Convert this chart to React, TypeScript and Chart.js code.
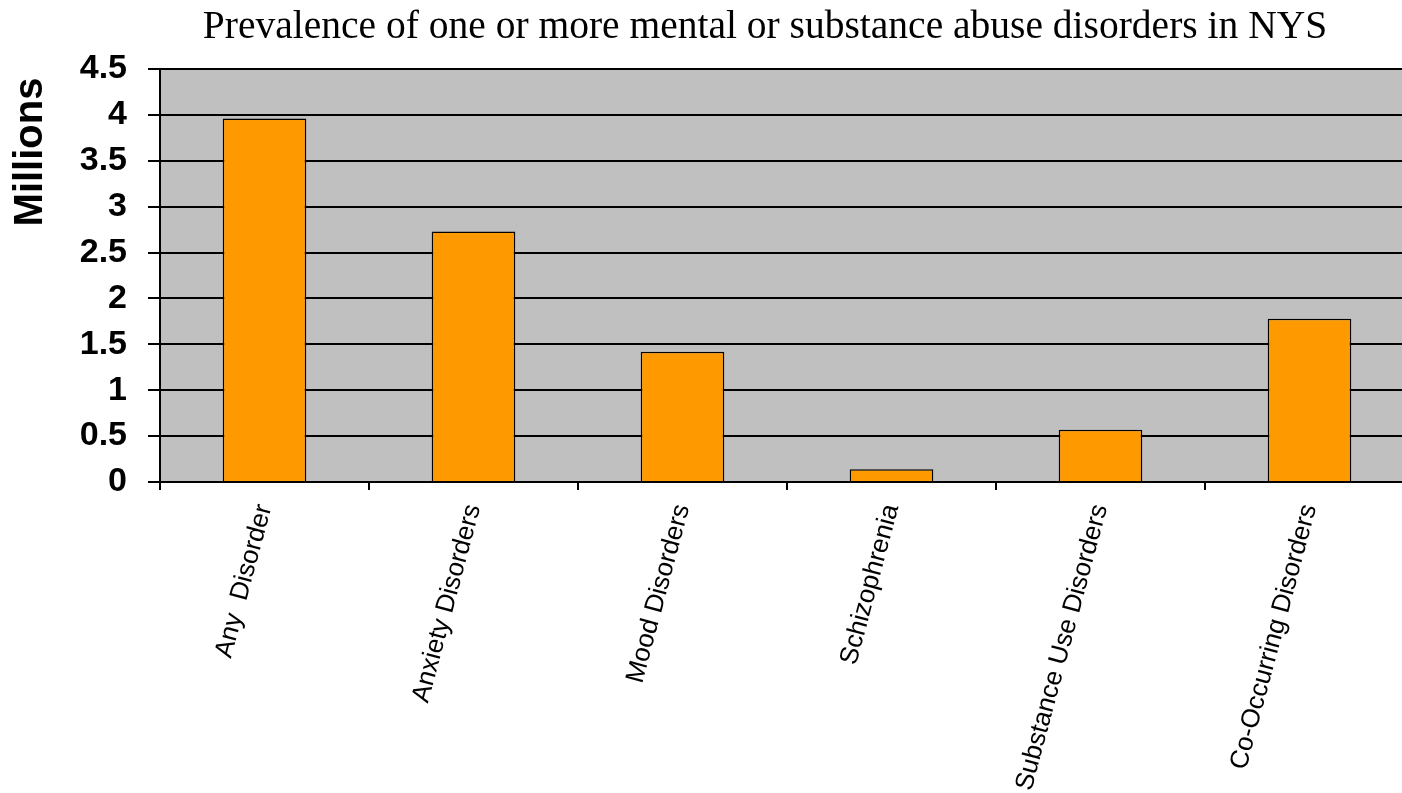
import React, { useEffect, useRef } from "react";
import { Chart, registerables } from "chart.js";

Chart.register(...registerables);

const chartTitle = "Prevalence of one or more mental or substance abuse disorders in NYS";
const yAxisTitle = "Millions";
const categories = [
  "Any  Disorder",
  "Anxiety Disorders",
  "Mood Disorders",
  "Schizophrenia",
  "Substance Use Disorders",
  "Co-Occurring Disorders",
];
const values = [3.96, 2.73, 1.42, 0.14, 0.57, 1.78];
const yMin = 0;
const yMax = 4.5;
const yStep = 0.5;

const plotBackground = {
  id: "plotBackground",
  beforeDraw(chart: any) {
    const { ctx, chartArea } = chart;
    if (!chartArea) return;
    ctx.save();
    ctx.fillStyle = "#C0C0C0";
    ctx.fillRect(chartArea.left, chartArea.top, chartArea.right - chartArea.left, chartArea.bottom - chartArea.top);
    ctx.restore();
  },
};

const textPlugin = {
  id: "textPlugin",
  afterDraw(chart: any) {
    const { ctx, chartArea } = chart;
    ctx.save();
    // chart title
    ctx.fillStyle = "#000";
    ctx.textAlign = "center";
    ctx.textBaseline = "alphabetic";
    ctx.font = "39.5px 'Liberation Serif', 'Times New Roman', serif";
    ctx.fillText(chartTitle, 765, chartArea.top - 31);
    // y axis title
    ctx.translate(31, chartArea.top + 83);
    ctx.rotate(-Math.PI / 2);
    ctx.textAlign = "center";
    ctx.textBaseline = "middle";
    ctx.font = "bold 40px 'Liberation Sans', Arial, sans-serif";
    ctx.fillText(yAxisTitle, 0, 0);
    ctx.restore();
  },
};

export default function App() {
  const canvasRef = useRef<HTMLCanvasElement | null>(null);

  useEffect(() => {
    document.documentElement.style.overflow = "hidden";
    document.body.style.overflow = "hidden";
    document.body.style.margin = "0";
    const canvas = canvasRef.current;
    if (!canvas) return;
    const chart = new Chart(canvas, {
      type: "bar",
      data: {
        labels: categories,
        datasets: [
          {
            data: values,
            backgroundColor: "#FF9900",
            borderColor: "#000000",
            borderWidth: 1.5,
            barPercentage: 0.4,
            categoryPercentage: 1,
          },
        ],
      },
      plugins: [plotBackground, textPlugin],
      options: {
        responsive: false,
        animation: false,
        devicePixelRatio: 1,
        layout: { padding: { left: 0, right: 6, top: 69, bottom: 0 } },
        font: { family: "'Liberation Sans', Arial, sans-serif" },
        plugins: {
          legend: { display: false },
          tooltip: { enabled: false },
          title: { display: false },
        },
        scales: {
          x: {
            offset: true,
            grid: {
              display: true,
              drawOnChartArea: false,
              drawTicks: true,
              tickLength: 8,
              color: "#000",
              lineWidth: 2,
              offset: true,
            },
            border: { display: true, color: "#000", width: 2 },
            ticks: {
              autoSkip: false,
              minRotation: 75,
              maxRotation: 75,
              padding: 11,
              color: "#000",
              font: { family: "'Liberation Sans', Arial, sans-serif", size: 26 },
            },
            afterFit(scale: any) {
              scale.height = 311;
            },
          },
          y: {
            min: yMin,
            max: yMax,
            grid: {
              color: "#000",
              lineWidth: 2,
              drawTicks: true,
              tickLength: 12,
            },
            border: { display: true, color: "#000", width: 2 },
            ticks: {
              stepSize: yStep,
              padding: 21,
              color: "#000",
              font: { family: "'Liberation Sans', Arial, sans-serif", size: 34, weight: "bold" },
              callback: (v: any) => String(Number(v)),
            },
            afterFit(scale: any) {
              scale.width = 160;
            },
          },
        },
      },
    });
    return () => chart.destroy();
  }, []);

  return (
    <div style={{ position: "fixed", left: 0, top: 0, width: 1420, height: 793, background: "#fff" }}>
      <canvas ref={canvasRef} width={1420} height={793} style={{ display: "block" }} />
    </div>
  );
}
